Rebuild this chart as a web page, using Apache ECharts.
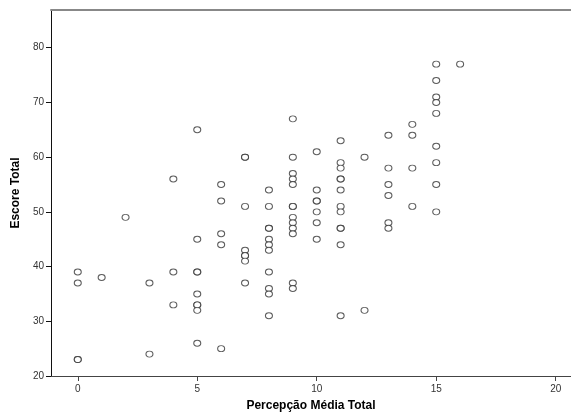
<!DOCTYPE html>
<html>
<head>
<meta charset="utf-8">
<script src="https://cdn.jsdelivr.net/npm/echarts@6/dist/echarts.min.js"></script>
<style>
  html, body { margin: 0; padding: 0; background: #fff; }
  #chart { width: 571px; height: 414px; }
</style>
</head>
<body>
<div id="chart"></div>
<script>
// percepcao (x) -> escore (y), one list of scores per x value
const xValues = [0, 1, 2, 3, 4, 5, 6, 7, 8, 9, 10, 11, 12, 13, 14, 15, 16];
const scores = [
    [39, 37, 23, 23],
    [38],
    [49],
    [37, 24],
    [56, 39, 33],
    [65, 45, 39, 39, 35, 33, 33, 32, 26],
    [55, 52, 46, 44, 25],
    [60, 60, 51, 43, 42, 42, 41, 37],
    [54, 51, 47, 47, 45, 44, 43, 39, 36, 35, 31],
    [67, 60, 57, 56, 55, 51, 51, 49, 48, 47, 46, 37, 36],
    [61, 54, 52, 52, 50, 48, 45],
    [63, 59, 58, 56, 56, 54, 51, 50, 47, 47, 44, 31],
    [60, 32],
    [64, 58, 55, 53, 48, 47],
    [66, 64, 58, 51],
    [77, 74, 71, 70, 68, 62, 59, 55, 50],
    [77]
];
const xTicks = [0, 5, 10, 15, 20];
const yTicks = [20, 30, 40, 50, 60, 70, 80];

const points = [];
xValues.forEach((x, i) => {
    scores[i].forEach((y) => points.push([x, y]));
});

const chart = echarts.init(document.getElementById('chart'), null, { renderer: 'canvas' });

const labelFont = { fontFamily: 'Liberation Sans, Arial, sans-serif', fontSize: 10, color: '#333' };
const nameFont = { fontFamily: 'Liberation Sans, Arial, sans-serif', fontSize: 12, fontWeight: 'bold', color: '#000' };

const option = {
    animation: false,
    grid: {
        left: 51,
        right: 0,
        top: 10,
        bottom: 38,
        outerBoundsMode: 'none'
    },
    xAxis: [
        {
            type: 'value',
            min: -1.12,
            max: 20.64,
            name: 'Percepção Média Total',
            nameLocation: 'middle',
            nameGap: 24,
            nameTextStyle: nameFont,
            splitLine: { show: false },
            axisLine: { onZero: false, lineStyle: { color: '#444', width: 1 } },
            axisTick: {
                length: 5,
                customValues: xTicks,
                lineStyle: { color: '#444' }
            },
            axisLabel: {
                customValues: xTicks,
                margin: 8,
                ...labelFont
            }
        },
        {
            // top frame line
            type: 'value',
            position: 'top',
            min: -1.12,
            max: 20.64,
            splitLine: { show: false },
            axisLine: { onZero: false, lineStyle: { color: '#888', width: 2 } },
            axisTick: { show: false },
            axisLabel: { show: false }
        }
    ],
    yAxis: {
        type: 'value',
        min: 20,
        max: 86.9,
        name: 'Escore Total',
        nameLocation: 'middle',
        nameGap: 25,
        nameRotate: 90,
        nameTextStyle: nameFont,
        splitLine: { show: false },
        axisLine: { onZero: false, lineStyle: { color: '#111', width: 1 } },
        axisTick: {
            length: 5,
            customValues: yTicks,
            lineStyle: { color: '#111' }
        },
        axisLabel: {
            customValues: yTicks,
            margin: 7,
            ...labelFont
        }
    },
    series: [
        {
            type: 'scatter',
            data: points,
            symbol: 'circle',
            symbolSize: [7, 6],
            itemStyle: {
                color: '#fff',
                borderColor: '#333',
                borderWidth: 1
            }
        }
    ]
};

chart.setOption(option);
</script>
</body>
</html>
